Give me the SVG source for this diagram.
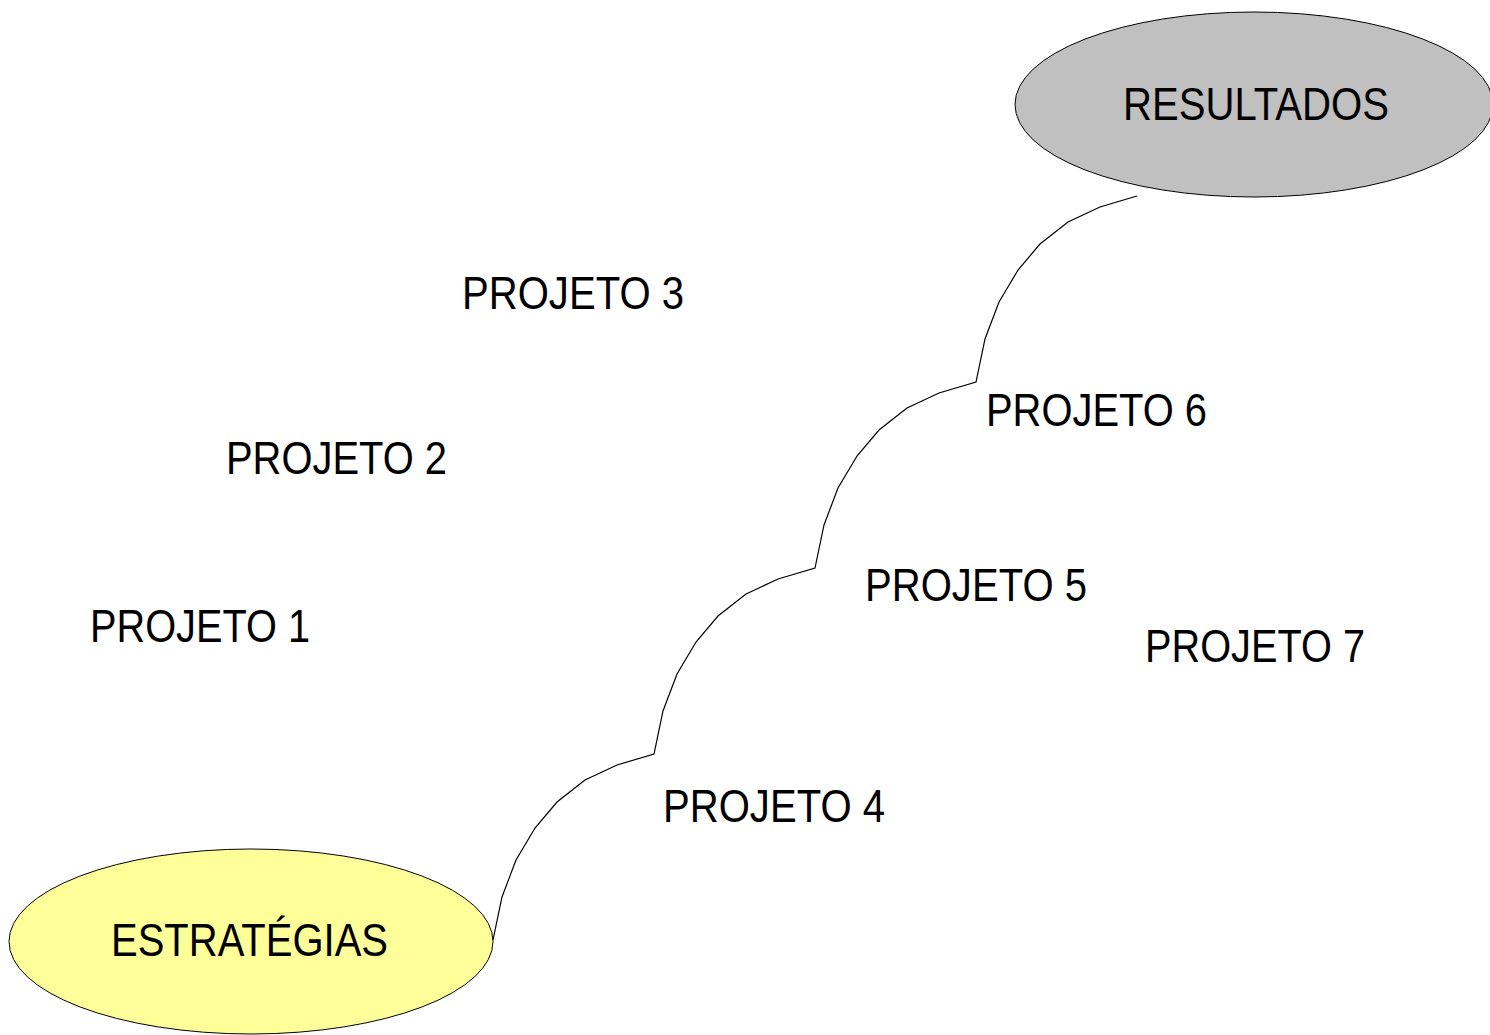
<svg xmlns="http://www.w3.org/2000/svg" width="1490" height="1035" viewBox="0 0 1490 1035">
  <style>
    .lbl { font-family: "Liberation Sans", Arial, sans-serif; font-size: 46px; fill: #000; }
    .node { stroke: #000; stroke-width: 1; }
    .path { fill: none; stroke: #000; stroke-width: 1.2; stroke-linejoin: miter; }
  </style>
  <rect width="1490" height="1035" fill="#fff"/>

  <!-- stepped path from strategies up to results: four identical scallops -->
  <g id="connectors">
    <path class="path" d="M493,940
      l9,-43 l14,-37 l19,-32 l22,-26 l28,-22 l32,-15 l37,-11
      l9,-43 l14,-37 l19,-32 l22,-26 l28,-22 l32,-15 l37,-11
      l9,-43 l14,-37 l19,-32 l22,-26 l28,-22 l32,-15 l37,-11
      l9,-43 l14,-37 l19,-32 l22,-26 l28,-22 l32,-15 l37,-11"/>
  </g>

  <g id="resultados">
    <ellipse class="node" cx="1254" cy="104.5" rx="239" ry="92.5" fill="#c0c0c0"/>
    <text class="lbl" x="1123" y="120" textLength="266" lengthAdjust="spacingAndGlyphs">RESULTADOS</text>
  </g>

  <g id="estrategias">
    <ellipse class="node" cx="251" cy="941.5" rx="242" ry="92.5" fill="#ffff99"/>
    <text class="lbl" x="111" y="956" textLength="277" lengthAdjust="spacingAndGlyphs">ESTRATÉGIAS</text>
  </g>

  <g id="projeto1"><text class="lbl" x="90" y="642" textLength="220" lengthAdjust="spacingAndGlyphs">PROJETO 1</text></g>
  <g id="projeto2"><text class="lbl" x="226" y="474" textLength="221" lengthAdjust="spacingAndGlyphs">PROJETO 2</text></g>
  <g id="projeto3"><text class="lbl" x="462" y="309" textLength="222" lengthAdjust="spacingAndGlyphs">PROJETO 3</text></g>
  <g id="projeto4"><text class="lbl" x="663" y="822" textLength="222" lengthAdjust="spacingAndGlyphs">PROJETO 4</text></g>
  <g id="projeto5"><text class="lbl" x="865" y="601" textLength="222" lengthAdjust="spacingAndGlyphs">PROJETO 5</text></g>
  <g id="projeto6"><text class="lbl" x="986" y="426" textLength="221" lengthAdjust="spacingAndGlyphs">PROJETO 6</text></g>
  <g id="projeto7"><text class="lbl" x="1145" y="662" textLength="220" lengthAdjust="spacingAndGlyphs">PROJETO 7</text></g>
</svg>
